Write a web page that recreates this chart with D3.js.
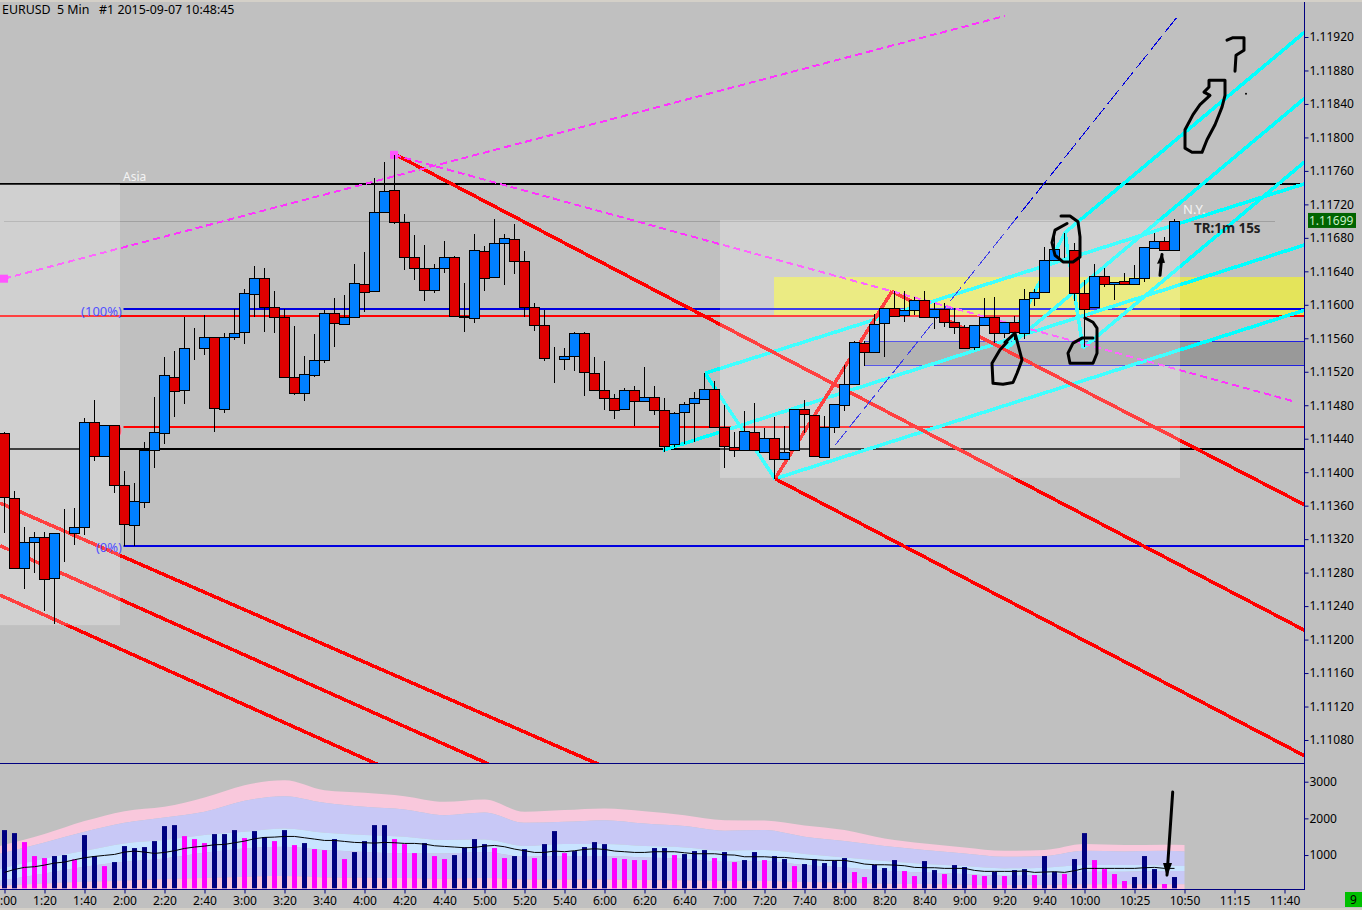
<!DOCTYPE html>
<html>
<head>
  <meta charset="utf-8">
  <title>EURUSD 5 Min</title>
  <script src="https://d3js.org/d3.v7.min.js"></script>
  <style>
    html, body { margin: 0; padding: 0; background: #d4d0c8; overflow: hidden; }
    svg { display: block; }
    text { font-family: "Noto Sans", sans-serif; font-size: 12px; fill: #000; white-space: pre; }
    .axis text { font-size: 12px; fill: #000; }
    .axis line { stroke: #000080; }
    .axis path { display: none; }
    .pen { fill: none; stroke: #000; stroke-width: 3; stroke-linejoin: round; stroke-linecap: round; }
  </style>
</head>
<body>
<div id="grafico"></div>
<script type="text/javascript">
"use strict"

// candles, 5 min each, first one is 1:00
var opens = [
1.11446,1.11368,1.11284,1.11315,1.11321,1.11272,1.11326,1.11326,1.11333,1.11459,
1.11418,1.11455,1.11383,1.11336,1.11363,1.11425,1.11446,1.11513,1.11497,1.11546,
1.11547,1.11560,1.11474,1.11560,1.11566,1.11612,1.11631,1.11596,1.11584,1.11513,
1.11493,1.11515,1.11533,1.11589,1.11576,1.11584,1.11624,1.11615,1.11710,1.11736,
1.11698,1.11656,1.11643,1.11616,1.11643,1.11656,1.11585,1.11583,1.11663,1.11632,
1.11673,1.11677,1.11651,1.11596,1.11575,1.11534,1.11534,1.11538,1.11565,1.11517,
1.11497,1.11487,1.11474,1.11497,1.11484,1.11489,1.11473,1.11432,1.11471,1.11481,
1.11486,1.11498,1.11453,1.11429,1.11425,1.11447,1.11423,1.11440,1.11414,1.11425,
1.11474,1.11467,1.11417,1.11453,1.11479,1.11504,1.11553,1.11542,1.11577,1.11595,
1.11587,1.11593,1.11604,1.11584,1.11594,1.11578,1.11572,1.11548,1.11575,1.11584,
1.11565,1.11578,1.11565,1.11607,1.11614,1.11652,1.11664,1.11664,1.11613,1.11596,
1.11633,1.11624,1.11627,1.11624,1.11631,1.11667,1.11675,1.11664];
var highs = [
1.11447,1.11376,1.11333,1.11327,1.11327,1.11326,1.11355,1.11356,1.11463,1.11485,
1.11455,1.11455,1.11400,1.11386,1.11435,1.11489,1.11536,1.11544,1.11584,1.11571,
1.11587,1.11560,1.11565,1.11594,1.11618,1.11645,1.11643,1.11615,1.11594,1.11573,
1.11538,1.11564,1.11593,1.11607,1.11610,1.11648,1.11662,1.11750,1.11769,1.11778,
1.11707,1.11682,1.11670,1.11648,1.11675,1.11657,1.11625,1.11683,1.11669,1.11701,
1.11683,1.11695,1.11663,1.11601,1.11593,1.11548,1.11547,1.11566,1.11566,1.11536,
1.11532,1.11492,1.11499,1.11502,1.11525,1.11502,1.11487,1.11471,1.11483,1.11495,
1.11517,1.11508,1.11479,1.11447,1.11472,1.11481,1.11452,1.11465,1.11454,1.11474,
1.11485,1.11467,1.11466,1.11480,1.11527,1.11555,1.11555,1.11588,1.11595,1.11615,
1.11615,1.11608,1.11615,1.11601,1.11601,1.11595,1.11575,1.11575,1.11607,1.11608,
1.11578,1.11585,1.11618,1.11618,1.11668,1.11685,1.11685,1.11673,1.11628,1.11648,
1.11643,1.11626,1.11637,1.11646,1.11668,1.11685,1.11680,1.11701];
var lows = [
1.11326,1.11284,1.11259,1.11278,1.11233,1.11217,1.11291,1.11312,1.11324,1.11412,
1.11417,1.11374,1.11311,1.11311,1.11356,1.11404,1.11432,1.11465,1.11480,1.11533,
1.11539,1.11447,1.11469,1.11557,1.11552,1.11584,1.11566,1.11565,1.11513,1.11491,
1.11484,1.11513,1.11529,1.11548,1.11576,1.11584,1.11590,1.11615,1.11710,1.11695,
1.11640,1.11628,1.11603,1.11613,1.11637,1.11585,1.11566,1.11577,1.11615,1.11632,
1.11622,1.11636,1.11584,1.11567,1.11532,1.11505,1.11521,1.11520,1.11490,1.11497,
1.11473,1.11462,1.11474,1.11454,1.11484,1.11467,1.11423,1.11429,1.11432,1.11435,
1.11486,1.11453,1.11404,1.11417,1.11425,1.11425,1.11423,1.11391,1.11414,1.11425,
1.11446,1.11418,1.11416,1.11446,1.11472,1.11504,1.11526,1.11541,1.11536,1.11585,
1.11578,1.11587,1.11584,1.11570,1.11572,1.11564,1.11546,1.11545,1.11575,1.11553,
1.11559,1.11557,1.11558,1.11597,1.11614,1.11652,1.11655,1.11603,1.11548,1.11596,
1.11620,1.11604,1.11624,1.11624,1.11626,1.11667,1.11664,1.11664];
var closes = [
1.11369,1.11284,1.11315,1.11321,1.11271,1.11326,1.11326,1.11333,1.11459,1.11418,
1.11455,1.11383,1.11337,1.11364,1.11425,1.11447,1.11515,1.11496,1.11547,1.11546,
1.11560,1.11475,1.11560,1.11565,1.11613,1.11631,1.11596,1.11584,1.11513,1.11493,
1.11516,1.11533,1.11589,1.11577,1.11584,1.11625,1.11614,1.11710,1.11735,1.11698,
1.11656,1.11643,1.11616,1.11643,1.11656,1.11585,1.11584,1.11664,1.11631,1.11673,
1.11679,1.11651,1.11596,1.11575,1.11535,1.11534,1.11538,1.11565,1.11519,1.11497,
1.11487,1.11473,1.11497,1.11484,1.11489,1.11473,1.11430,1.11469,1.11480,1.11487,
1.11498,1.11453,1.11430,1.11425,1.11448,1.11425,1.11440,1.11414,1.11423,1.11474,
1.11468,1.11418,1.11453,1.11480,1.11504,1.11554,1.11542,1.11576,1.11595,1.11585,
1.11593,1.11604,1.11584,1.11594,1.11578,1.11572,1.11547,1.11575,1.11584,1.11565,
1.11578,1.11566,1.11606,1.11614,1.11652,1.11665,1.11664,1.11613,1.11594,1.11633,
1.11624,1.11626,1.11624,1.11631,1.11668,1.11675,1.11664,1.11699];

// volume panel
var volumes = [
1680,1598,1353,972,917,972,999,881,1544,972,
699,808,1244,1190,1217,1380,1789,1816,1516,1435,
1326,1571,1571,1680,1462,1653,1489,1380,1680,1271,
1326,1162,1135,1435,890,1081,1380,1816,1816,1435,
1298,1053,1326,972,890,999,1208,1435,1298,1190,
917,972,1162,917,1298,1653,1053,1108,1217,1353,
1298,917,890,863,863,1190,1190,999,1026,1108,
1135,917,1081,808,863,1081,863,972,890,699,
754,890,781,854,917,536,400,735,645,863,
563,427,835,590,481,726,672,454,427,545,
427,590,617,454,972,545,481,890,1598,863,
617,481,291,400,972,617,209,400];
// 1 = navy bar, 0 = magenta bar
var volumeKinds = [
1,1,0,0,0,1,1,0,1,1,
0,1,1,1,1,1,1,1,0,0,
0,1,1,1,0,1,1,0,1,0,
1,0,0,1,0,1,1,1,1,0,
0,0,1,0,0,1,1,1,1,0,
0,1,1,0,1,1,0,1,1,1,
1,0,0,0,0,1,1,0,1,1,
1,0,1,0,1,1,0,1,1,0,
1,1,1,1,1,0,0,1,1,1,
0,0,1,1,0,1,1,0,0,1,
0,1,1,0,1,1,0,1,1,0,
0,0,0,1,1,1,0,1];
var volumeAverage = [
527,608,663,681,726,781,808,872,926,962,
990,1017,1081,1108,1081,1044,1071,1117,1180,1217,
1244,1280,1289,1335,1380,1444,1480,1489,1507,1507,
1471,1435,1398,1398,1371,1344,1335,1326,1344,1335,
1317,1317,1298,1253,1235,1217,1199,1208,1244,1262,
1226,1162,1117,1071,1071,1108,1090,1117,1153,1171,
1153,1108,1090,1071,1071,1090,1090,1090,1062,1035,
1035,1035,1008,999,953,953,953,935,935,908,
890,872,854,854,854,808,754,735,735,726,
708,663,654,654,636,636,636,581,554,554,
554,554,563,527,536,545,527,572,636,636,
636,636,636,636,654,663,636,636];

// volume bands, read every fourth bar
var bandBars = [-1,4,8,12,16,20,24,28,32,36,40,44,48,52,56,60,64,68,72,76,80,84,88,92,96,100,104,108,112,116,118];
var bandTop = [1208,1571,1925,2197,2315,2570,2906,3042,2769,2697,2606,2452,2515,2179,2225,2270,2197,2088,1952,1943,1807,1680,1453,1317,1208,1117,1135,1298,1271,1280,1271];
var bandUpper = [999,1344,1634,1880,2025,2179,2479,2606,2424,2315,2243,2088,2161,1880,1907,1952,1861,1789,1662,1680,1498,1380,1244,1135,1044,953,972,1117,1099,1117,1099];
var bandMidHigh = [590,908,1117,1317,1407,1544,1634,1725,1607,1544,1498,1407,1426,1244,1298,1298,1244,1208,1117,1135,1026,935,835,754,699,636,654,726,726,717,699];
var bandMidLow = [272,499,681,817,908,1062,1180,1226,1135,1081,1044,1044,1081,953,972,972,935,899,817,835,726,663,572,527,481,436,454,545,545,563,563];
var bandLower = [154,227,272,300,345,372,409,427,390,381,372,354,372,336,336,336,318,309,291,291,263,245,218,209,191,182,182,200,200,200,200];

// axes
var priceTicks = [1.1192,1.1188,1.1184,1.118,1.1176,1.1172,1.1168,1.1164,1.116,1.1156,1.1152,1.1148,1.1144,1.114,1.1136,1.1132,1.1128,1.1124,1.112,1.1116,1.1112,1.1108];
var volumeTicks = [1000,2000,3000];
var timeBars = [0,4,8,12,16,20,24,28,32,36,40,44,48,52,56,60,64,68,72,76,80,84,88,92,96,100,104,108,113,118,123,128];
var timeLabels = ["1:00","1:20","1:40","2:00","2:20","2:40","3:00","3:20","3:40","4:00","4:20","4:40","5:00","5:20","5:40","6:00","6:20","6:40","7:00","7:20","7:40","8:00","8:20","8:40","9:00","9:20","9:40","10:00","10:25","10:50","11:15","11:40"];

// horizontal levels: price, first bar, last bar
var levelsBlack = [[1.11743,-1,131],[1.11427,-1,131]];
var levelsBlue = [[1.11594,11.9,131],[1.11311,11.9,131]];
var levelsRed = [[1.11585,-1,131],[1.11453,11.9,131]];
var levelsGrey = [[1.11699,-0.05,127.05]];

// drawn objects: bar, price, bar, price
var redLines = [
  [39.15,1.11778,130.95,1.11204],
  [88.75,1.11615,130.95,1.11354],
  [77.05,1.11391,130.95,1.11054],
  [77.05,1.11391,88.75,1.11615],
  [-0.45,1.11362,62.05,1.11036],
  [-0.45,1.11311,51.05,1.11036],
  [-0.45,1.11252,39.85,1.11036]];
var cyanLines = [
  [70.05,1.11517,130.95,1.11747],
  [70.05,1.11517,77.05,1.11391],
  [77.05,1.11391,130.95,1.11596],
  [65.85,1.11425,130.95,1.11674],
  [106.05,1.11685,130.95,1.11934],
  [100.05,1.11545,130.95,1.11855],
  [107.85,1.11547,130.95,1.11779],
  [100.05,1.11545,106.05,1.11685],
  [106.05,1.11685,107.85,1.11547]];
var magentaLines = [
  [-0.05,1.11630,100.05,1.11944],
  [38.95,1.11778,129.05,1.11483]];
var magentaSquares = [[-0.05,1.11630],[38.95,1.11778]];
var thinBlueLines = [[83.05,1.11431,117.35,1.11944]];

// zones: bar, bar, price, price
var yellowZone = [76.95,131,1.11632,1.11585];
var greyZone = [86.05,131,1.11555,1.11527];
var sessionZones = [[-1,11.55,1.11743,1.11216],[71.55,117.55,1.11700,1.11392]];

// hand drawing on the screenshot: bar, price
var penStrokes = [
  [[122.25,1.11915],[122.85,1.11918],[123.95,1.11918],[123.95,1.11903],[123.15,1.11897],[123.05,1.11878]],
  [[119.95,1.11853],[120.45,1.11859],[120.45,1.11867],[122.05,1.11867],[122.05,1.11849],[121.75,1.11835],[121.05,1.11814],[120.25,1.11796],[119.75,1.11781],[118.75,1.11781],[118.05,1.11786],[118.05,1.11808],[118.85,1.11826],[119.55,1.11838],[120.55,1.11849],[119.95,1.11853]],
  [[105.65,1.11705],[106.55,1.11705],[107.35,1.11698],[107.55,1.11680],[107.55,1.11656],[106.85,1.11650],[105.85,1.11650],[105.05,1.11658],[104.75,1.11673],[105.05,1.11688],[106.25,1.11696]],
  [[100.05,1.11554],[101.05,1.11565],[101.75,1.11533],[101.25,1.11517],[100.85,1.11506],[99.85,1.11504],[98.85,1.11505],[98.75,1.11529],[99.55,1.11545],[100.25,1.11554]],
  [[108.05,1.11583],[108.85,1.11578],[109.25,1.11571],[109.25,1.11541],[108.85,1.11529],[106.55,1.11529],[106.35,1.11541],[106.85,1.11553],[107.75,1.11559],[108.85,1.11559]],
  [[115.55,1.11634],[115.75,1.11659]]];
var penDot = [124.15,1.11851];
var penArrowHead = [[115.25,1.11648],[115.75,1.11661],[116.05,1.11649]];
// this one sits in the volume panel: bar, volume
var volumeArrow = [[116.82,2717],[116.25,455]];
var volumeArrowHead = [[115.85,782],[116.25,403],[116.75,782]];

var lastPrice = 1.11699;

var largura = 1362, altura = 910;
var painel = {left: 0, right: 1304, top: 2, bottom: 763, volTop: 764, volBottom: 889};

var x = d3.scaleLinear().domain([0, 130]).range([4.5, 1304.5]);
var y = d3.scaleLinear().domain([1.1192, 1.1108]).range([36, 739]);
var yVol = d3.scaleLinear().domain([0, 3000]).range([891.7, 781.7]);

var svg = d3.select("#grafico").append("svg")
  .attr("width", largura)
  .attr("height", altura);

svg.append("rect").attr("x", 0).attr("y", 0).attr("width", largura).attr("height", altura).attr("fill", "#d4d0c8");
svg.append("rect").attr("x", 0).attr("y", painel.top).attr("width", largura).attr("height", 906).attr("fill", "#c0c0c0");

var defs = svg.append("defs");
defs.append("clipPath").attr("id", "clipMain").append("rect")
  .attr("x", 0).attr("y", painel.top).attr("width", painel.right).attr("height", painel.bottom - painel.top);
defs.append("clipPath").attr("id", "clipVol").append("rect")
  .attr("x", 0).attr("y", painel.volTop).attr("width", painel.right).attr("height", painel.volBottom - painel.volTop);

var main = svg.append("g").attr("clip-path", "url(#clipMain)");

function zone(g, z, cor, opacidade) {
  return g.append("rect")
    .attr("x", x(z[0]))
    .attr("y", y(z[2]))
    .attr("width", x(z[1]) - x(z[0]))
    .attr("height", y(z[3]) - y(z[2]))
    .attr("fill", cor)
    .attr("fill-opacity", opacidade);
}

function levels(dados, cor, espessura) {
  main.selectAll(null).data(dados).enter().append("line")
    .attr("x1", d => x(d[1]))
    .attr("x2", d => x(d[2]))
    .attr("y1", d => Math.round(y(d[0])) + (espessura % 2 ? 0.5 : 0))
    .attr("y2", d => Math.round(y(d[0])) + (espessura % 2 ? 0.5 : 0))
    .attr("stroke", cor)
    .attr("stroke-width", espessura);
}

function trend(dados, cor, espessura, traco) {
  main.selectAll(null).data(dados).enter().append("line")
    .attr("x1", d => x(d[0]))
    .attr("y1", d => y(d[1]))
    .attr("x2", d => x(d[2]))
    .attr("y2", d => y(d[3]))
    .attr("stroke", cor)
    .attr("stroke-width", espessura)
    .attr("stroke-dasharray", traco)
    .attr("shape-rendering", "crispEdges");
}

zone(main, yellowZone, "#e4e45a", 1);
zone(main, greyZone, "#999999", 1);
// thin blue edges of the grey zone
levels([[greyZone[2], greyZone[0], greyZone[1]], [greyZone[3], greyZone[0], greyZone[1]]], "#2020e0", 1);

levels(levelsGrey, "#a0a0a0", 1);
levels(levelsBlack, "#000", 2);
levels(levelsBlue, "#0000e0", 2);
levels(levelsRed, "#ff0000", 2);

trend(cyanLines, "#00ffff", 3.5);
trend(redLines, "#ff0000", 3.5);
trend(thinBlueLines, "#0000e0", 1, "18,5");
trend(magentaLines, "#ff33ff", 2, "7,4");

sessionZones.forEach(function(z) { zone(main, z, "#ffffff", 0.25); });

main.selectAll(null).data(magentaSquares).enter().append("rect")
  .attr("x", d => x(d[0]) - 4)
  .attr("y", d => y(d[1]) - 4)
  .attr("width", 8)
  .attr("height", 8)
  .attr("fill", "#ff55ff");

// level captions
function caption(bar, price, texto, cor, anchor, tamanho) {
  return main.append("text")
    .attr("x", x(bar))
    .attr("y", y(price))
    .attr("text-anchor", anchor || "start")
    .style("fill", cor)
    .style("font-size", (tamanho || 12) + "px")
    .text(texto);
}
caption(11.75, 1.11585, "(100%)", "#5050ff", "end", 13);
caption(11.75, 1.11445, "(50%)", "#ff5050", "end", 13);
caption(11.75, 1.11303, "(0%)", "#5050ff", "end", 13);
caption(11.85, 1.11747, "Asia", "#f4f4f4");
caption(117.85, 1.11707, "N.Y.", "#f4f4f4", "start", 13);

// candles
var velas = d3.range(opens.length).map(function(i) {
  return {i: i, o: opens[i], h: highs[i], l: lows[i], c: closes[i]};
});
var vela = main.selectAll("g.vela").data(velas).enter().append("g").attr("class", "vela")
  .attr("shape-rendering", "crispEdges");
vela.append("line")
  .attr("x1", d => x(d.i))
  .attr("x2", d => x(d.i))
  .attr("y1", d => y(d.h))
  .attr("y2", d => y(d.l))
  .attr("stroke", "#000");
vela.append("rect")
  .attr("x", d => x(d.i) - 5)
  .attr("width", 10)
  .attr("y", d => Math.round(y(Math.max(d.o, d.c))) + 0.5)
  .attr("height", d => Math.round(y(Math.min(d.o, d.c))) - Math.round(y(Math.max(d.o, d.c))))
  .attr("fill", d => d.c > d.o ? "#0080ff" : "#e00000")
  .attr("stroke", "#000");

// volume panel
var vol = svg.append("g").attr("clip-path", "url(#clipVol)");
var bandas = [
  [bandTop, bandUpper, "#f9c8dc"],
  [bandUpper, bandMidHigh, "#c8c8f6"],
  [bandMidHigh, bandMidLow, "#c8e4ff"],
  [bandMidLow, bandLower, "#c8c8f6"],
  [bandLower, bandLower.map(() => 0), "#f9c8dc"]];
bandas.forEach(function(b) {
  var area = d3.area()
    .x((d, i) => x(bandBars[i]))
    .y0((d, i) => yVol(b[1][i]))
    .y1((d, i) => yVol(b[0][i]))
    .curve(d3.curveMonotoneX);
  vol.append("path").datum(bandBars).attr("d", area).attr("fill", b[2]);
});
vol.selectAll("rect.volBar").data(volumes).enter().append("rect")
  .attr("class", "volBar")
  .attr("x", (d, i) => x(i) - 2.5)
  .attr("width", 5)
  .attr("y", d => yVol(d))
  .attr("height", d => yVol(91) - yVol(d))
  .attr("fill", (d, i) => volumeKinds[i] ? "#000080" : "#ff00ff");
vol.append("path").datum(volumeAverage)
  .attr("d", d3.line().x((d, i) => x(i)).y(d => yVol(d)))
  .attr("fill", "none")
  .attr("stroke", "#000")
  .attr("stroke-width", 1);

// frame and axes
function frame(x1, y1, x2, y2) {
  svg.append("line").attr("x1", x1).attr("y1", y1).attr("x2", x2).attr("y2", y2)
    .attr("stroke", "#000080").attr("stroke-width", 1).attr("shape-rendering", "crispEdges");
}
frame(0, 763.5, 1304, 763.5);
frame(0, 889.5, 1304, 889.5);
frame(1304.5, 2, 1304.5, 889.5);

svg.append("g").attr("class", "axis")
  .attr("transform", "translate(1304.5,1)")
  .call(d3.axisRight(y).tickValues(priceTicks).tickFormat(d3.format(".5f")).tickSize(4).tickPadding(1));
svg.append("g").attr("class", "axis")
  .attr("transform", "translate(1304.5,0)")
  .call(d3.axisRight(yVol).tickValues(volumeTicks).tickFormat(d3.format("d")).tickSize(4).tickPadding(1));
svg.append("g").attr("class", "axis")
  .attr("transform", "translate(0,889.5)")
  .call(d3.axisBottom(x).tickValues(timeBars).tickFormat((d, i) => timeLabels[i]).tickSize(4).tickPadding(3));

// current price tag
svg.append("rect").attr("x", 1308).attr("y", y(lastPrice) - 8).attr("width", 48).attr("height", 15).attr("fill", "#006400");
svg.append("text").attr("x", 1309).attr("y", y(lastPrice) + 4)
  .style("fill", "#c8f0c8").text(d3.format(".5f")(lastPrice));

// counter box bottom right
svg.append("rect").attr("x", 1345).attr("y", 892).attr("width", 17).attr("height", 15).attr("fill", "#00c000");
svg.append("text").attr("x", 1350).attr("y", 904).text("9");

// header and timer
svg.append("text").attr("x", 2).attr("y", 14).style("font-size", "12.4px").text("EURUSD  5 Min   #1 2015-09-07 10:48:45");
svg.append("text").attr("x", 1194).attr("y", 233).style("font-weight", "bold").style("font-size", "13.4px").style("fill", "#202020").text("TR:1m 15s");

// hand drawing
var penLine = d3.line().x(d => x(d[0])).y(d => y(d[1]));
svg.selectAll("path.pen").data(penStrokes).enter().append("path")
  .attr("class", "pen")
  .attr("d", penLine);
svg.append("circle").attr("cx", x(penDot[0])).attr("cy", y(penDot[1])).attr("r", 1).attr("fill", "#000");
svg.append("path").attr("d", penLine(penArrowHead) + "Z").attr("fill", "#000");
var volPen = d3.line().x(d => x(d[0])).y(d => yVol(d[1]));
svg.append("path").attr("class", "pen").attr("d", volPen(volumeArrow));
svg.append("path").attr("d", volPen(volumeArrowHead) + "Z").attr("fill", "#000");
</script>
</body>
</html>
